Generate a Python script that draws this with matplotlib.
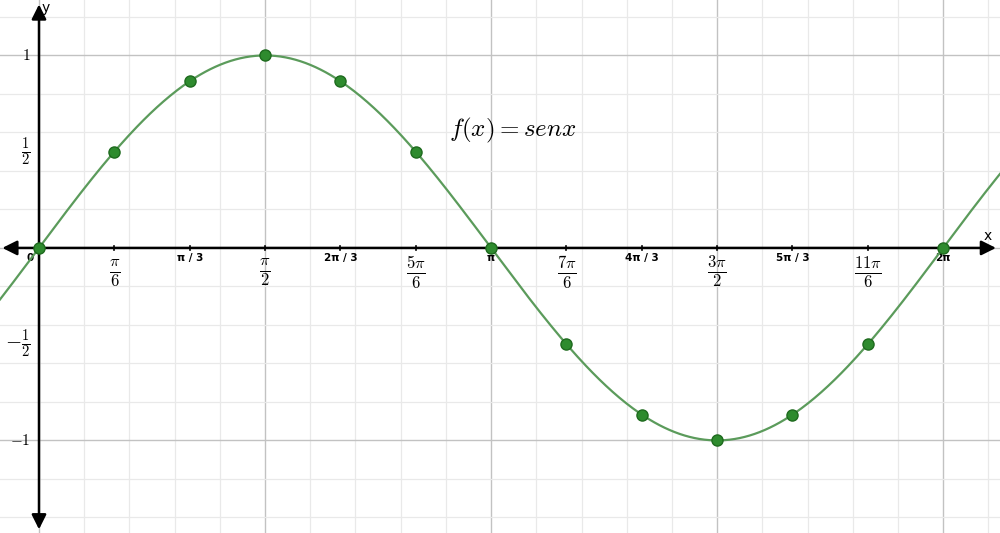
import numpy as np
import matplotlib.pyplot as plt

plt.rcParams['mathtext.fontset'] = 'cm'

# puntos marcados (k * pi/6) y sus valores de sen x
k_sixths = [0, 1, 2, 3, 4, 5, 6, 7, 8, 9, 10, 11, 12]
sen_vals = [0, 0.5, 0.866, 1, 0.866, 0.5, 0, -0.5, -0.866, -1, -0.866, -0.5, 0]

frac_labels = {1: r'$\frac{\pi}{6}$', 3: r'$\frac{\pi}{2}$', 5: r'$\frac{5\pi}{6}$',
               7: r'$\frac{7\pi}{6}$', 9: r'$\frac{3\pi}{2}$', 11: r'$\frac{11\pi}{6}$'}
plain_labels = {2: 'π / 3', 4: '2π / 3', 6: 'π', 8: '4π / 3', 10: '5π / 3', 12: '2π'}
y_labels = {1: r'$\mathbf{1}$', 0.5: r'$\frac{1}{2}$', -0.5: r'$-\frac{1}{2}$', -1: r'$-1$'}

xmin, xmax = -0.271, 6.678
ymin, ymax = -1.481, 1.288

fig = plt.figure(figsize=(10, 5.33), dpi=100)
ax = fig.add_axes([0, 0, 1, 1])
for s in ax.spines.values():
    s.set_visible(False)

# rejilla
ax.set_xticks(np.arange(0, 7, np.pi / 10), minor=True)
ax.set_yticks(np.arange(-1.4, 1.3, 0.2), minor=True)
ax.set_xticks(np.arange(0, 7, np.pi / 2))
ax.set_yticks([-1, 0, 1])
ax.grid(which='minor', color='#e9e9e9', lw=0.9)
ax.grid(which='major', color='#c2c2c2', lw=1.0)
ax.tick_params(which='both', length=0, labelbottom=False, labelleft=False)
ax.set_axisbelow(True)
ax.set_xlim(xmin, xmax)
ax.set_ylim(ymin, ymax)

# ejes con flechas
arrow = dict(arrowstyle='<|-|>', lw=1.8, color='black', mutation_scale=22, shrinkA=0, shrinkB=0)
ax.annotate('', xy=(6.65, 0), xytext=(-0.255, 0), arrowprops=arrow)
ax.annotate('', xy=(0, 1.265), xytext=(0, -1.462), arrowprops=arrow)
ax.text(6.59, 0.025, 'x', fontsize=10, ha='center', va='bottom')
ax.text(0.045, 1.245, 'y', fontsize=10, ha='center', va='center')

# marcas del eje x
for k in k_sixths[1:]:
    ax.plot([k * np.pi / 6] * 2, [-0.012, 0.012], color='black', lw=1.2)

# etiquetas eje x
for k, lab in frac_labels.items():
    ax.annotate(lab, (k * np.pi / 6, 0), xytext=(0, -17.5), textcoords='offset points',
                ha='center', va='center', fontsize=17)
for k, lab in plain_labels.items():
    ax.annotate(lab, (k * np.pi / 6, 0), xytext=(0, -7.5), textcoords='offset points',
                ha='center', va='center', fontsize=7.5, fontweight='bold')
ax.annotate('0', (0, 0), xytext=(-6.5, -7.5), textcoords='offset points',
            ha='center', va='center', fontsize=7.5, fontweight='bold')

# etiquetas eje y
for v, lab in y_labels.items():
    ax.annotate(lab, (0, v), xytext=(-6, 0), textcoords='offset points',
                ha='right', va='center', fontsize=15 if abs(v) == 0.5 else 11)

# curva y puntos
xs = np.linspace(xmin, xmax, 600)
ax.plot(xs, np.sin(xs), color='#5b9b5b', lw=1.6, zorder=3)
ax.plot([k * np.pi / 6 for k in k_sixths], sen_vals, 'o', color='#2e8b2e',
        mec='#1e6a1e', ms=8, zorder=4)

ax.text(3.29, 0.61, r'$f(x) = sen x$', fontsize=18, ha='center', va='center')

fig.savefig('out.png', dpi=100)
